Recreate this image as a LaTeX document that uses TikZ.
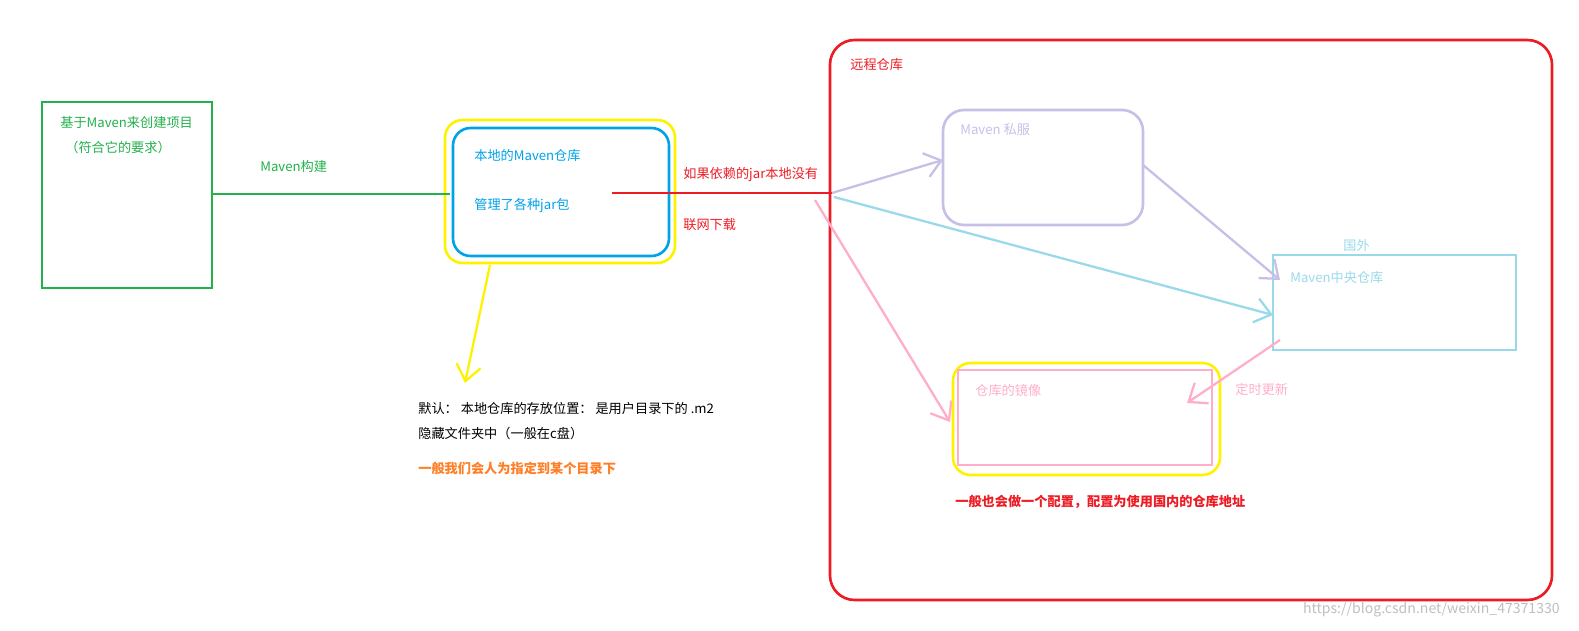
\documentclass[tikz,border=0pt]{standalone}
\usepackage{fontspec}
\setmainfont{Noto Sans CJK SC}
\usetikzlibrary{positioning,arrows.meta}
\definecolor{cgreen}{RGB}{34,177,76}
\definecolor{cblue}{RGB}{0,162,232}
\definecolor{cyel}{RGB}{255,242,0}
\definecolor{cred}{RGB}{237,28,36}
\definecolor{cpurp}{RGB}{200,191,231}
\definecolor{clblue}{RGB}{153,217,234}
\definecolor{cpink}{RGB}{255,174,201}
\definecolor{corange}{RGB}{255,127,39}
\tikzstyle{txt} = [anchor=west, inner sep=0pt, font=\fontsize{7.5pt}{9pt}\selectfont]
\tikzstyle{box} = [line width=1.5pt]
\tikzstyle{arr} = [line width=1.3pt, -{Straight Barb[length=9pt,width=14pt]}]
\begin{document}
\begin{tikzpicture}[x=0.02cm, y=-0.02cm]
\useasboundingbox (0,0) rectangle (1579,631);
% left project
\draw[box, cgreen] (42,102) rectangle (212,288);
\node(P1)[txt, text=cgreen] at (60,122) {基于Maven来创建项目};
\node(P2)[txt, text=cgreen] at (65,147) {（符合它的要求）};
\coordinate (PE) at (212,194);
\node(MB)[txt, text=cgreen] at (260,167) {Maven构建};
% local repository
\draw[box, cyel, rounded corners=10pt] (445,120) rectangle (675,263);
\draw[box, cblue, rounded corners=10pt] (453,128) rectangle (669,256);
\node(L1)[txt, text=cblue] at (474,156) {本地的Maven仓库};
\node(L2)[txt, text=cblue] at (474,206) {管理了各种jar包};
\coordinate (LW) at (450,194);
\draw[box, cgreen] (PE) -- (LW);
\coordinate (LS) at (490,265);
\coordinate (LT) at (465,383);
\draw[arr, cyel] (LS) -- (LT);
\node(D1)[txt] at (418,408) {默认： 本地仓库的存放位置： 是用户目录下的 .m2};
\node(D2)[txt] at (418,433) {隐藏文件夹中（一般在c盘）};
\node(D3)[txt, text=corange, font=\fontsize{7.5pt}{9pt}\selectfont\bfseries] at (418,468) {一般我们会人为指定到某个目录下};
% link
\coordinate (RS) at (612,193);
\coordinate (RE) at (832,193);
\draw[box, cred] (RS) -- (RE);
\node(N1)[txt, text=cred] at (683,175) {如果依赖的jar本地没有};
\node(N2)[txt, text=cred] at (683,225) {联网下载};
% remote
\draw[box, cred, rounded corners=14pt] (830,40) rectangle (1552,600);
\node(R)[txt, text=cred] at (850,65) {远程仓库};
\draw[box, cpurp, rounded corners=12pt] (943,110) rectangle (1143,225);
\node(S)[txt, text=cpurp] at (960,130) {Maven 私服};
\draw[box, clblue] (1273,255) rectangle (1516,350);
\node(C0)[txt, text=clblue] at (1343,245) {国外};
\node(C)[txt, text=clblue] at (1290,278) {Maven中央仓库};
\draw[box, cyel, rounded corners=10pt] (953,363) rectangle (1220,475);
\draw[box, cpink] (958,370) rectangle (1212,465);
\node(M)[txt, text=cpink] at (975,390) {仓库的镜像};
\node(M2)[txt, text=cred, font=\fontsize{7.5pt}{9pt}\selectfont\bfseries] at (955,502) {一般也会做一个配置，配置为使用国内的仓库地址};
\node(U)[txt, text=cpink] at (1235,389) {定时更新};
\draw[arr, cpurp] (RE) -- (943,160);
\draw[arr, cpurp] (1143,165) -- (1280,280);
\draw[arr, clblue] (834,197) -- (1273,315);
\draw[arr, cpink] (815,200) -- (950,422);
\draw[arr, cpink] (1280,340) -- (1187,403);
\node(W)[anchor=east, inner sep=0pt, text=black!25, font=\fontsize{8pt}{9pt}\selectfont] at (1560,610) {https://blog.csdn.net/weixin\_47371330};
\end{tikzpicture}
\end{document}
